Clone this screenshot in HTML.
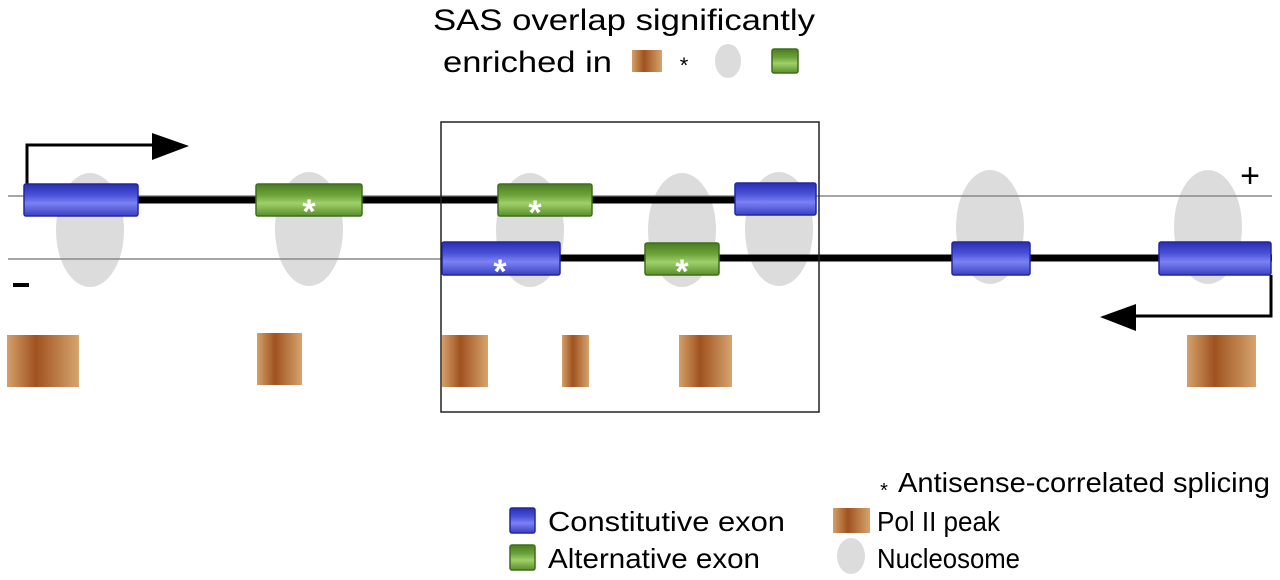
<!DOCTYPE html>
<html><head><meta charset="utf-8"><style>
html,body{margin:0;padding:0;background:#fff;}
svg{display:block;}
text{font-family:"Liberation Sans",Arial,sans-serif;}
</style></head><body>
<svg width="1280" height="580" viewBox="0 0 1280 580" xmlns="http://www.w3.org/2000/svg">
<defs>
<linearGradient id="bl" x1="0" y1="0" x2="0" y2="1">
<stop offset="0" stop-color="#2a2fb0"/><stop offset="0.35" stop-color="#4a52d8"/><stop offset="0.6" stop-color="#7b82f5"/><stop offset="1" stop-color="#3a40c0"/></linearGradient>
<linearGradient id="gr" x1="0" y1="0" x2="0" y2="1">
<stop offset="0" stop-color="#4a7d22"/><stop offset="0.35" stop-color="#6ea33a"/><stop offset="0.6" stop-color="#9fd06a"/><stop offset="1" stop-color="#5a8e2c"/></linearGradient>
<linearGradient id="po" x1="0" y1="0" x2="1" y2="0">
<stop offset="0" stop-color="#d4a06a"/><stop offset="0.4" stop-color="#a0521f"/><stop offset="1" stop-color="#d6a46e"/></linearGradient>
</defs>
<text x="433" y="30" font-size="30" textLength="382" lengthAdjust="spacingAndGlyphs">SAS overlap significantly</text>
<text x="443" y="72" font-size="30" textLength="169" lengthAdjust="spacingAndGlyphs">enriched in</text>
<rect x="632" y="50" width="30" height="22" fill="url(#po)"/>
<text x="684" y="73" font-size="22" text-anchor="middle">*</text>
<ellipse cx="728" cy="61" rx="13" ry="17" fill="#dcdcdc"/>
<rect x="772" y="49" width="26" height="24" rx="2" fill="url(#gr)" stroke="#3f6e1c" stroke-width="1.5"/>

<g fill="#dcdcdc">
<ellipse cx="90" cy="230" rx="34" ry="57"/>
<ellipse cx="309" cy="229" rx="34" ry="57"/>
<ellipse cx="530" cy="230" rx="34" ry="57"/>
<ellipse cx="682" cy="230" rx="34" ry="57"/>
<ellipse cx="779" cy="229" rx="34" ry="57"/>
<ellipse cx="990" cy="227" rx="34" ry="57"/>
<ellipse cx="1208" cy="227" rx="34" ry="57"/>
</g>
<line x1="8" y1="196" x2="1272" y2="196" stroke="#888" stroke-width="1.5"/>
<line x1="8" y1="259" x2="442" y2="259" stroke="#888" stroke-width="1.5"/>
<line x1="24" y1="200" x2="816" y2="200" stroke="#000" stroke-width="7"/>
<line x1="442" y1="258" x2="1272" y2="258" stroke="#000" stroke-width="7"/>
<polyline points="27,185 27,145 155,145" fill="none" stroke="#000" stroke-width="3"/>
<polygon points="152,133 189,146 152,160" fill="#000"/>
<polyline points="1271,275 1271,316 1132,316" fill="none" stroke="#000" stroke-width="3"/>
<polygon points="1136,304 1100,317 1136,331" fill="#000"/>
<g stroke-width="1.5">
<rect x="24" y="184" width="114" height="32" rx="2" fill="url(#bl)" stroke="#2226a0"/>
<rect x="256" y="184" width="106" height="32" rx="2" fill="url(#gr)" stroke="#3f6e1c"/>
<rect x="498" y="184" width="94" height="32" rx="2" fill="url(#gr)" stroke="#3f6e1c"/>
<rect x="735" y="183" width="81" height="32" rx="2" fill="url(#bl)" stroke="#2226a0"/>
<rect x="442" y="242" width="118" height="33" rx="2" fill="url(#bl)" stroke="#2226a0"/>
<rect x="645" y="243" width="74" height="32" rx="2" fill="url(#gr)" stroke="#3f6e1c"/>
<rect x="952" y="242" width="78" height="33" rx="2" fill="url(#bl)" stroke="#2226a0"/>
<rect x="1159" y="242" width="112" height="33" rx="2" fill="url(#bl)" stroke="#2226a0"/>
</g>
<g fill="#fff" font-size="34" font-weight="bold" text-anchor="middle">
<text x="309" y="223">*</text>
<text x="535" y="224">*</text>
<text x="500" y="283">*</text>
<text x="682" y="283">*</text>
</g>
<rect x="13" y="283" width="16" height="4" fill="#000"/>
<text x="1250" y="187" font-size="34" text-anchor="middle">+</text>
<rect x="441" y="122" width="378" height="290" fill="none" stroke="#222" stroke-width="1.5"/>
<g fill="url(#po)">
<rect x="7" y="335" width="72" height="52"/>
<rect x="257" y="333" width="45" height="52"/>
<rect x="442" y="335" width="46" height="52"/>
<rect x="562" y="335" width="27" height="52"/>
<rect x="679" y="335" width="53" height="52"/>
<rect x="1187" y="335" width="69" height="52"/>
</g>
<!-- legend -->
<text x="884" y="497" font-size="20" text-anchor="middle">*</text>
<text x="898" y="492" font-size="28" textLength="372" lengthAdjust="spacingAndGlyphs">Antisense-correlated splicing</text>
<rect x="510" y="508" width="25" height="25" rx="2" fill="url(#bl)" stroke="#2226a0" stroke-width="1.5"/>
<text x="548" y="531" font-size="28" textLength="237" lengthAdjust="spacingAndGlyphs">Constitutive exon</text>
<rect x="833" y="508" width="37" height="25" fill="url(#po)"/>
<text x="877" y="531" font-size="28" textLength="123" lengthAdjust="spacingAndGlyphs">Pol II peak</text>
<rect x="510" y="545" width="25" height="25" rx="2" fill="url(#gr)" stroke="#3f6e1c" stroke-width="1.5"/>
<text x="548" y="568" font-size="28" textLength="212" lengthAdjust="spacingAndGlyphs">Alternative exon</text>
<ellipse cx="851" cy="556" rx="14" ry="18" fill="#dcdcdc"/>
<text x="877" y="568" font-size="28" textLength="143" lengthAdjust="spacingAndGlyphs">Nucleosome</text>
</svg>
</body></html>
